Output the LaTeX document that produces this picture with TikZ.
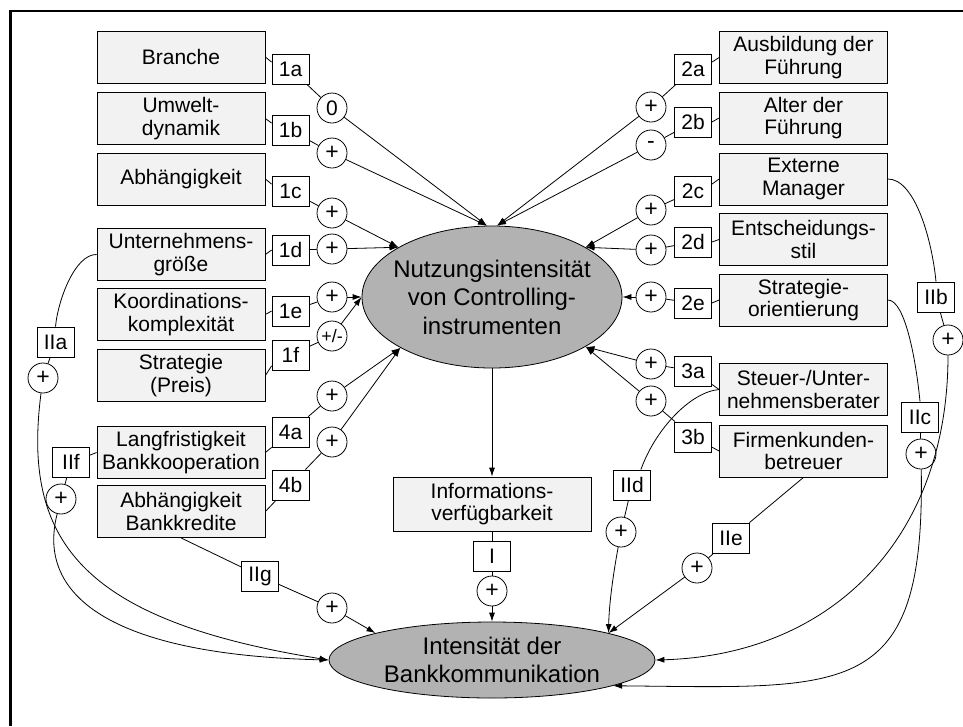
\documentclass[tikz,border=0pt]{standalone}
\usepackage{fontspec}
\setmainfont{Liberation Sans}
\usetikzlibrary{shapes.geometric,arrows.meta}
\begin{document}
\begin{tikzpicture}[x=1pt,y=-1pt,line width=0.8pt,>={Latex[length=9pt,width=6pt]}]
  \tikzset{Box/.style={draw,fill=black!5,minimum width=168,minimum height=52,inner sep=0pt,align=center,font=\fontsize{21}{22.5}\selectfont},
    Tag/.style={draw,fill=white,minimum width=37,minimum height=30,inner sep=0pt,font=\fontsize{21}{22.5}\selectfont},
    Sign/.style={draw,circle,fill=white,minimum size=30,inner sep=0pt,font=\fontsize{23}{23}\selectfont},
    Oval/.style={draw,ellipse,fill=black!30,align=center,inner sep=0pt,font=\fontsize{24}{28.5}\selectfont}}
  \useasboundingbox (0,0) rectangle (963,726);
  \draw[line width=2.6pt] (10.5,726) -- (10.5,11) -- (963,11);

  \node[Box] (branche) at (181,57) {Branche};
  \node[Box] (umwelt) at (181,118.5) {Umwelt-\\dynamik};
  \node[Box] (abh) at (181,179) {Abhängigkeit};
  \node[Box] (groesse) at (181,254.5) {Unternehmens-\\größe};
  \node[Box] (koord) at (181,314.5) {Koordinations-\\komplexität};
  \node[Box] (preis) at (181,375.5) {Strategie\\(Preis)};
  \node[Box] (langf) at (181,452.5) {Langfristigkeit\\Bankkooperation};
  \node[Box] (kredit) at (181,511.5) {Abhängigkeit\\Bankkredite};

  \node[Box] (ausb) at (803.5,57.5) {Ausbildung der\\Führung};
  \node[Box] (alter) at (803.5,118) {Alter der\\Führung};
  \node[Box] (extern) at (803.5,179) {Externe\\Manager};
  \node[Box] (entsch) at (803.5,239.5) {Entscheidungs-\\stil};
  \node[Box] (strori) at (803.5,300) {Strategie-\\orientierung};
  \node[Box] (steuer) at (803.5,389.5) {Steuer-/Unter-\\nehmensberater};
  \node[Box] (firmen) at (803.5,451) {Firmenkunden-\\betreuer};
  \node[Box,minimum width=198,minimum height=54] (info) at (492,504) {Informations-\\verfügbarkeit};

  \node[Oval,minimum width=260,minimum height=142,inner xsep=-8pt] (nutz) at (492,297) {Nutzungsintensität\\von Controlling-\\instrumenten};
  \node[Oval,minimum width=326,minimum height=76] (bank) at (492,660) {Intensität der\\Bankkommunikation};

  \node[Tag] (t1a) at (290.5,69) {1a};
  \node[Tag] (t1b) at (290.5,130) {1b};
  \node[Tag] (t1c) at (290.5,191) {1c};
  \node[Tag] (t1d) at (290.5,250) {1d};
  \node[Tag] (t1e) at (290.5,311) {1e};
  \node[Tag] (t1f) at (290.5,355) {1f};
  \node[Tag] (t4a) at (290.5,432) {4a};
  \node[Tag] (t4b) at (290.5,485) {4b};
  \node[Sign,font=\fontsize{21}{21}\selectfont] (s1a) at (332,108) {0};
  \node[Sign] (s1b) at (332,153) {+};
  \node[Sign] (s1c) at (332,213) {+};
  \node[Sign] (s1d) at (332,249) {+};
  \node[Sign] (s1e) at (332,297) {+};
  \node[Sign,font=\fontsize{18}{18}\selectfont] (s1f) at (332,336) {+/-};
  \node[Sign] (s4a) at (332,396) {+};
  \node[Sign] (s4b) at (332,442) {+};

  \node[Tag] (t2a) at (693,69) {2a};
  \node[Tag] (t2b) at (693,122) {2b};
  \node[Tag] (t2c) at (693,191) {2c};
  \node[Tag] (t2d) at (693,242) {2d};
  \node[Tag] (t2e) at (693,303) {2e};
  \node[Tag] (t3a) at (693,371) {3a};
  \node[Tag] (t3b) at (693,437) {3b};
  \node[Sign] (s2a) at (651,107) {+};
  \node[Sign] (s2b) at (651,145) {-};
  \node[Sign] (s2c) at (651,210) {+};
  \node[Sign] (s2d) at (651,250) {+};
  \node[Sign] (s2e) at (651,297) {+};
  \node[Sign] (s3a) at (651,364) {+};
  \node[Sign] (s3b) at (651,401) {+};

  \node[Tag] (tI) at (492,556) {I};
  \node[Sign] (sI) at (492,591) {+};
  \node[Tag] (tIIa) at (55.5,342) {IIa};
  \node[Sign] (sIIa) at (43,378) {+};
  \node[Tag] (tIIf) at (71,462) {IIf};
  \node[Sign] (sIIf) at (61,499) {+};
  \node[Tag] (tIIg) at (260,576) {IIg};
  \node[Sign] (sIIg) at (332,608) {+};
  \node[Tag] (tIIb) at (936,297) {IIb};
  \node[Sign] (sIIb) at (948,340) {+};
  \node[Tag] (tIIc) at (920,417) {IIc};
  \node[Sign] (sIIc) at (921,454) {+};
  \node[Tag] (tIId) at (632,485) {IId};
  \node[Sign] (sIId) at (621,532) {+};
  \node[Tag] (tIIe) at (731,538) {IIe};
  \node[Sign] (sIIe) at (697,568) {+};

  \draw (branche.east) -- (t1a.160);
  \draw (umwelt.east) -- (t1b.160);
  \draw (abh.east) -- (t1c.160);
  \draw (groesse.east) -- (t1d.west);
  \draw (koord.east) -- (t1e.west);
  \draw (preis.east) -- (t1f.210);
  \draw (langf.east) -- (t4a);
  \draw (kredit.east) -- (t4b);
  \draw (t1a) -- (s1a);
  \draw (t1b) -- (s1b);
  \draw (t1c) -- (s1c);
  \draw (t1d) -- (s1d);
  \draw (t1e) -- (s1e);
  \draw (t1f) -- (s1f);
  \draw (t4a) -- (s4a);
  \draw (t4b) -- (s4b);
  \draw[->] (s1a) -- (nutz.94);
  \draw[->] (s1b) -- (nutz.94);
  \draw[->] (s1c) -- (nutz.152);
  \draw[->] (s1d) -- (nutz.152);
  \draw[->] (s1e) -- (nutz.west);
  \draw[->] (s1f) -- (nutz.west);
  \draw[->] (s4a) -- (nutz.209);
  \draw[->] (s4b) -- (nutz.209);

  \draw (ausb.west) -- (t2a.20);
  \draw (alter.west) -- (t2b.east);
  \draw (extern.west) -- (t2c.20);
  \draw (entsch.west) -- (t2d.east);
  \draw (strori.west) -- (t2e.east);
  \draw (steuer.west) -- (t3a);
  \draw (firmen.west) -- (t3b);
  \draw (t2a) -- (s2a);
  \draw (t2b) -- (s2b);
  \draw (t2c) -- (s2c);
  \draw (t2d) -- (s2d);
  \draw (t2e) -- (s2e);
  \draw (t3a) -- (s3a);
  \draw (t3b) -- (s3b);
  \draw[->] (s2a) -- (nutz.86);
  \draw[->] (s2b) -- (nutz.86);
  \draw[->] (s2c) -- (nutz.28);
  \draw[->] (s2d) -- (nutz.28);
  \draw[->] (s2e) -- (nutz.east);
  \draw[->] (s3a) -- (nutz.332);
  \draw[->] (s3b) -- (nutz.332);

  \draw[->] (nutz) -- (info);
  \draw (info) -- (tI);
  \draw (tI) -- (sI);
  \draw[->] (sI) -- (bank);

  \draw (groesse.west) .. controls (75,254) and (58,300) .. (tIIa.north);
  \draw (tIIa) -- (sIIa);
  \draw[->] (sIIa) .. controls (22,540) and (80,620) .. (bank.west);
  \draw (langf.west) -- (tIIf.20);
  \draw (tIIf) -- (sIIf);
  \draw[->] (sIIf) .. controls (35,600) and (120,655) .. (bank.west);
  \draw (kredit.south) -- (tIIg);
  \draw (tIIg) -- (sIIg);
  \draw[->] (sIIg) -- (bank.167);
  \draw (extern.east) .. controls (915,179) and (932,240) .. (tIIb.north);
  \draw (tIIb) -- (sIIb);
  \draw[->] (sIIb) .. controls (948,540) and (830,655) .. (bank.east);
  \draw (strori.east) .. controls (905,300) and (916,360) .. (tIIc.north);
  \draw (tIIc) -- (sIIc);
  \draw[->] (sIIc) .. controls (925,700) and (850,688) .. (bank.348);
  \draw (steuer.west) .. controls (690,392) and (655,430) .. (tIId.60);
  \draw (tIId) -- (sIId);
  \draw[->] (sIId) .. controls (613,575) and (609,605) .. (bank.13);
  \draw (firmen.south) -- (tIIe);
  \draw (tIIe) -- (sIIe);
  \draw[->] (sIIe) -- (bank.13);
\end{tikzpicture}
\end{document}
